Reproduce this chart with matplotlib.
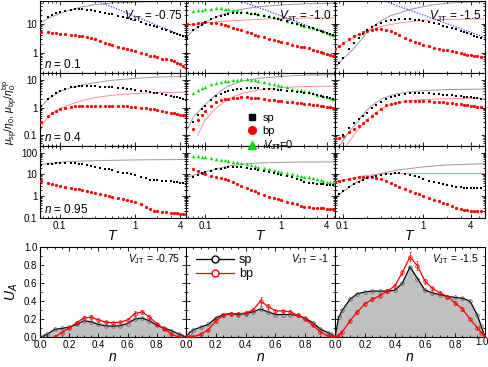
import numpy as np
import matplotlib
matplotlib.use('Agg')
import matplotlib.pyplot as plt
import matplotlib.transforms as mtrans
from matplotlib.ticker import FixedLocator, LogLocator, MultipleLocator, NullFormatter, FuncFormatter
from matplotlib.lines import Line2D

plt.rcParams['font.family'] = ['Liberation Sans', 'DejaVu Sans']
plt.rcParams['mathtext.fontset'] = 'custom'
plt.rcParams['mathtext.rm'] = 'Liberation Sans'
plt.rcParams['mathtext.it'] = 'Liberation Sans:italic'
plt.rcParams['mathtext.bf'] = 'Liberation Sans:bold'

nan = np.nan

# temperature grids (left/middle columns, right column)
T_A = [0.057, 0.07, 0.08, 0.09, 0.1, 0.12, 0.14, 0.16, 0.18, 0.2, 0.23, 0.26, 0.3, 0.35, 0.4, 0.45, 0.5,
       0.6, 0.7, 0.8, 0.9, 1.0, 1.2, 1.4, 1.6, 1.8, 2.0, 2.3, 2.6, 3.0, 3.3, 3.6, 4.0, 4.4, 4.8]
T_B = [0.08, 0.09, 0.1, 0.12, 0.14, 0.16, 0.18, 0.2, 0.23, 0.26, 0.3, 0.35, 0.4, 0.45, 0.5,
       0.6, 0.7, 0.8, 0.9, 1.0, 1.2, 1.4, 1.6, 1.8, 2.0, 2.3, 2.6, 3.0, 3.3, 3.6, 4.0, 4.4, 4.8, 5.4]

# ---- row n = 0.1 ----
sp_00 = [12, 17, 20, 23, 25, 28, 30, 31, 31.5, 31, 30, 29, 27, 25, 23.5, 22, 21, 19, 17, 15.5,
         14, 13, 11.3, 10, 9, 8.2, 7.5, 6.7, 6.0, 5.3, 4.9, 4.5, 4.1, 3.8, 3.5]
bp_00 = [5.3, 5.0, 4.85, 4.7, 4.55, 4.35, 4.2, 4.05, 3.9, 3.7, 3.45, 3.2, 2.85, 2.45, 2.15, 1.97, 1.82,
         1.6, 1.45, 1.32, 1.2, 1.12, 0.98, 0.88, 0.8, 0.74, 0.69, 0.63, 0.59, 0.55, 0.5, 0.45, 0.4, 0.35, 0.3]
sp_01 = [3.2, 6, 7.8, 9.2, 11, 14.5, 17, 19, 20.5, 21.5, 22.5, 23, 23.3, 23, 22, 21, 20, 18.5, 17, 15.8,
         14.7, 13.7, 12, 10.8, 9.8, 9, 8.4, 7.6, 6.9, 6.2, 5.7, 5.3, 4.8, 4.4, 4.1]
bp_01 = [9.4, 9.9, 10.4, 10.9, 11, 10.7, 10.2, 9.7, 9, 8.1, 7.2, 6.5, 5.8, 5.1, 4.7, 4.2, 3.9, 3.4, 3.0,
         2.75, 2.5, 2.35, 2.1, 1.9, 1.75, 1.63, 1.52, 1.4, 1.28, 1.17, 1.08, 1.0, 0.93, 0.86, 0.8]
v0_01 = [nan, 27, 29, 30.5, 31.5, 33, 33.5, 33.5, 33, 32, 30.5, 29, 27.5, 25.5, 24, 22.5, 21.2, 19.2, 17.6,
         16.3, 15.2, 14.2, 12.5, 11.2, 10.2, 9.3, 8.6, 7.8, 7.1, 6.4, 5.9, 5.4, 4.9, 4.5, 4.2]
sp_02 = [0.28, 0.45, 0.66, 1.3, 2.15, 3.2, 4.4, 5.8, 7.8, 9.2, 10.7, 12, 13, 13.7, 14.2, 14.5, 14.4, 13.8,
         13.2, 12.6, 11.5, 10.4, 9.4, 8.6, 7.9, 7.0, 6.3, 5.6, 5.1, 4.7, 4.3, 3.9, 3.6, 3.3]
bp_02 = [1.3, 1.7, 2.15, 3.0, 3.7, 4.4, 5.0, 5.6, 6.2, 6.6, 6.6, 6.2, 5.5, 4.8, 4.2, 3.3, 2.8, 2.4, 2.1,
         1.9, 1.65, 1.5, 1.38, 1.28, 1.2, 1.1, 1.02, 0.94, 0.9, 0.86, 0.81, 0.77, 0.74, 0.7]

# ---- row n = 0.4 ----
sp_10 = [1.1, 2.0, 2.7, 3.3, 3.9, 4.8, 5.4, 5.8, 6.0, 6.1, 6.1, 6.0, 5.9, 5.8, 5.6, 5.5, 5.4, 5.2, 5.0,
         4.8, 4.6, 4.45, 4.15, 3.9, 3.7, 3.5, 3.35, 3.1, 2.9, 2.7, 2.5, 2.35, 2.2, 2.05, 1.9]
bp_10 = [0.3, 0.5, 0.65, 0.78, 0.88, 1.0, 1.07, 1.1, 1.12, 1.13, 1.13, 1.13, 1.13, 1.13, 1.13, 1.12, 1.12,
         1.12, 1.11, 1.1, 1.08, 1.05, 1.0, 0.95, 0.9, 0.86, 0.82, 0.76, 0.7, 0.65, 0.61, 0.58, 0.55, 0.52, 0.5]
sp_11 = [nan, 0.3, 0.55, 0.85, 1.15, 1.9, 2.6, 3.2, 3.6, 3.9, 4.3, 4.55, 4.8, 4.95, 5.0, 5.0, 5.0, 4.9, 4.75,
         4.6, 4.45, 4.35, 4.1, 3.9, 3.75, 3.6, 3.45, 3.25, 3.05, 2.8, 2.65, 2.5, 2.35, 2.2, 2.05]
bp_11 = [nan, 0.17, 0.35, 0.55, 0.75, 1.15, 1.55, 1.85, 2.0, 2.1, 2.2, 2.3, 2.35, 2.35, 2.3, 2.25, 2.15,
         2.05, 1.95, 1.87, 1.8, 1.74, 1.65, 1.57, 1.5, 1.44, 1.39, 1.32, 1.26, 1.19, 1.14, 1.1, 1.06, 1.02, 0.98]
v0_11 = [nan, 3.5, 4.3, 5.0, 5.6, 6.9, 7.9, 8.7, 9.2, 9.6, 10.1, 10.4, 10.6, 10.5, 10.2, 9.7, 9.2, 8.3, 7.6,
         7.0, 6.5, 6.1, 5.4, 4.9, 4.5, 4.2, 3.9, 3.55, 3.25, 2.95, 2.75, 2.55, 2.4, 2.25, 2.1]
sp_12 = [nan, nan, 0.1, 0.18, 0.28, 0.38, 0.5, 0.65, 0.95, 1.2, 1.6, 2.1, 2.45, 2.7, 2.9, 3.1, 3.25, 3.3,
         3.3, 3.3, 3.25, 3.15, 3.05, 2.95, 2.85, 2.75, 2.65, 2.55, 2.48, 2.4, 2.32, 2.25, 2.2, 2.1]
bp_12 = [0.075, 0.08, 0.09, 0.13, 0.17, 0.22, 0.28, 0.36, 0.5, 0.65, 0.85, 1.2, 1.4, 1.52, 1.6, 1.7, 1.75,
         1.77, 1.77, 1.75, 1.7, 1.65, 1.6, 1.55, 1.5, 1.44, 1.38, 1.33, 1.28, 1.24, 1.18, 1.13, 1.09, 1.04]

# ---- row n = 0.95 ----
sp_20 = [28, 30, 31.5, 32, 32.5, 33, 33, 32, 31, 29.5, 27, 25, 22.5, 20, 18.5, 17, 15.5, 13.5, 12, 11, 10,
         9.2, 7.8, 6.5, 5.6, 5.5, 5.4, 5.2, 5.0, 4.8, 4.6, 4.4, 4.2, 4.0, 3.8]
bp_20 = [4.8, 4.2, 3.6, 3.2, 3.0, 2.7, 2.4, 2.2, 2.05, 1.9, 1.75, 1.6, 1.45, 1.3, 1.15, 1.05, 0.95, 0.82,
         0.72, 0.66, 0.61, 0.56, 0.42, 0.32, 0.26, 0.22, 0.2, 0.19, 0.18, 0.175, 0.17, 0.165, 0.16, 0.16, 0.155]
sp_21 = [nan, 7.5, 9.5, 11, 12.5, 14.5, 17, 18.5, 20, 21, 22, 22, 21.5, 20, 18.5, 17, 15.8, 13.8, 12.3,
         11.2, 10.2, 9.5, 8.3, 7.3, 6.3, 5.3, 4.5, 4.0, 3.85, 3.7, 3.6, 3.5, 3.4, 3.3, 3.25]
bp_21 = [nan, 17, 14, 12, 10.5, 8.8, 7.8, 6.8, 6.0, 5.3, 4.4, 3.7, 3.0, 2.4, 1.95, 1.65, 1.4, 1.12, 0.93,
         0.82, 0.72, 0.65, 0.55, 0.48, 0.42, 0.37, 0.33, 0.31, 0.3, 0.29, 0.28, 0.28, 0.27, 0.27, 0.26]
v0_21 = [nan, 72, 67, 63, 60, 55, 50, 47, 44.5, 42, 38.5, 35.5, 32, 28.5, 26, 24, 22.5, 19.5, 17.3, 15.6,
         14.2, 13, 11.2, 10.0, 9.1, 8.4, 7.9, 7.4, 6.7, 6.0, 5.5, 5.1, 4.7, 4.4, 4.1]
sp_22 = [1.0, 1.3, 1.66, 2.6, 3.5, 4.6, 5.6, 6.6, 7.8, 8.7, 9.5, 10.3, 10.8, 11, 11, 10.5, 9.6, 8.5, 7.3,
         6.4, 5.2, 4.5, 4.0, 3.65, 3.4, 3.0, 2.75, 2.55, 2.4, 2.35, 2.3, 2.3, 2.3, 2.3]
bp_22 = [4.7, 5.1, 5.5, 6.1, 6.7, 7.2, 7.6, 7.7, 7.5, 7.0, 6.0, 4.8, 3.9, 3.2, 2.7, 2.1, 1.75, 1.45, 1.2,
         1.05, 0.85, 0.68, 0.58, 0.48, 0.42, 0.35, 0.3, 0.26, 0.24, 0.23, 0.22, 0.21, 0.21, 0.21]

# ---- thin reference curves: (T list, values) ----
gray_lines = {
    (0, 0): ([0.055, 0.07, 0.1, 0.15, 0.2, 0.3, 0.5, 1.0, 2.0, 4.8], [10.5, 15, 22, 31, 38, 45, 51, 55, 57, 58]),
    (0, 1): ([0.055, 0.07, 0.1, 0.15, 0.2, 0.3, 0.5, 1.0, 2.0, 5.1], [3.2, 6, 11, 18.5, 24, 31, 38, 44, 48, 50]),
    (0, 2): ([0.08, 0.1, 0.133, 0.17, 0.2, 0.24, 0.3, 0.4, 0.5, 0.7, 1.0, 1.4, 2.0, 3.0, 6.0],
             [0.3, 0.6, 1.26, 2.8, 4.8, 8, 12.5, 19, 23, 31, 38, 45, 50, 54, 57]),
    (1, 0): ([0.054, 0.07, 0.1, 0.15, 0.2, 0.3, 0.5, 1.0, 2.0, 4.8], [0.9, 2.0, 3.8, 5.5, 6.6, 8, 9.8, 11.5, 12.8, 13.5]),
    (1, 1): ([0.055, 0.07, 0.1, 0.15, 0.2, 0.3, 0.5, 1.0, 2.0, 5.1], [0.12, 0.45, 1.3, 3.5, 6, 9, 11.5, 13.5, 15, 15.5]),
    (1, 2): ([0.09, 0.1, 0.12, 0.14, 0.17, 0.2, 0.25, 0.3, 0.4, 0.6, 1.0, 2.0, 6.0],
             [0.04, 0.06, 0.13, 0.22, 0.45, 0.8, 1.4, 2.0, 2.8, 3.6, 4.1, 4.5, 4.7]),
    (2, 0): ([0.054, 0.08, 0.12, 0.2, 0.5, 1.0, 2.0, 4.8], [28, 33, 38, 41, 44, 46, 47, 48]),
    (2, 1): ([0.055, 0.07, 0.1, 0.15, 0.2, 0.3, 0.5, 1.0, 2.0, 5.1], [7, 9, 13, 19, 24, 29, 33, 35.5, 37, 37.5]),
    (2, 2): ([0.079, 0.1, 0.13, 0.17, 0.22, 0.3, 0.5, 1.0, 2.0, 6.0], [0.85, 1.6, 3.2, 5.5, 8, 11, 16, 22, 27, 31]),
}
pink_lines = {
    (0, 1): ([0.055, 0.1, 0.2, 0.5, 1.0, 2.0, 5.1], [8.5, 10.5, 12.3, 14, 15, 15.5, 15.8]),
    (0, 2): ([0.08, 0.1, 0.14, 0.2, 0.3, 0.5, 1.0, 2.0, 6.0], [1.3, 2.0, 3.5, 5.6, 8, 10.5, 13, 14, 14.5]),
    (1, 0): ([0.054, 0.06, 0.07, 0.08, 0.1, 0.15, 0.2, 0.3, 0.5, 1.0, 2.0, 4.8],
             [0.1, 0.25, 0.45, 0.62, 0.9, 1.4, 1.8, 2.3, 2.8, 3.2, 3.5, 3.6]),
    (1, 1): ([0.08, 0.1, 0.13, 0.17, 0.22, 0.3, 0.5, 1.0, 2.0, 5.1], [0.1, 0.35, 0.8, 1.5, 2.3, 3.2, 4.4, 5.3, 5.8, 6.0]),
    (1, 2): ([0.11, 0.13, 0.15, 0.2, 0.25, 0.3, 0.4, 0.6, 1.0, 2.0, 6.0],
             [0.04, 0.08, 0.14, 0.35, 0.6, 0.9, 1.3, 1.7, 1.95, 2.1, 2.2]),
    (2, 2): ([0.079, 0.1, 0.15, 0.2, 0.3, 0.5, 6.0], [4.5, 5.5, 7.5, 9, 10.5, 11, 11]),
}
blue_lines = {
    (0, 0): ([0.3, 0.5, 1.0, 2.0, 3.0, 4.8], [62, 37, 18, 8.7, 5.7, 3.5]),
    (0, 1): ([0.28, 0.5, 1.0, 2.0, 3.0, 5.1], [62, 36, 18.5, 9.3, 6.3, 3.9]),
    (0, 2): ([0.32, 0.5, 1.0, 2.0, 4.0, 6.0], [62, 40, 20, 10, 5, 3.3]),
}

markers = {
    (0, 0): (T_A, sp_00, bp_00, None), (0, 1): (T_A, sp_01, bp_01, v0_01), (0, 2): (T_B, sp_02, bp_02, None),
    (1, 0): (T_A, sp_10, bp_10, None), (1, 1): (T_A, sp_11, bp_11, v0_11), (1, 2): (T_B, sp_12, bp_12, None),
    (2, 0): (T_A, sp_20, bp_20, None), (2, 1): (T_A, sp_21, bp_21, v0_21), (2, 2): (T_B, sp_22, bp_22, None),
}

vjt_top = ['-0.75', '-1.0', '-1.5']
vjt_bot = ['-0.75', '-1', '-1.5']
n_labels = ['0.1', '0.4', '0.95']
xlims = [(0.055, 4.8), (0.056, 5.1), (0.08, 6.0)]
ylims = [(0.2, 60), (0.04, 18), (0.1, 200)]
yticks = [[1, 10], [0.1, 1, 10], [0.1, 1, 10, 100]]

# ---- bottom row: U_A vs n ----
n_vals = [0, 0.025, 0.05, 0.1, 0.15, 0.2, 0.25, 0.3, 0.35, 0.4, 0.45, 0.5, 0.55, 0.6, 0.65, 0.7, 0.75,
          0.8, 0.85, 0.9, 0.95, 0.975, 1.0]
ua_sp = [
    [0, 0.01, 0.03, 0.085, 0.095, 0.11, 0.14, 0.18, 0.17, 0.14, 0.125, 0.12, 0.125, 0.15, 0.2, 0.21, 0.18,
     0.13, 0.1, 0.07, 0.035, 0.015, 0],
    [0, 0.05, 0.08, 0.11, 0.14, 0.21, 0.25, 0.26, 0.25, 0.26, 0.28, 0.31, 0.28, 0.25, 0.25, 0.25, 0.24,
     0.21, 0.16, 0.09, 0.05, 0.03, 0],
    [0, 0.22, 0.3, 0.42, 0.48, 0.5, 0.51, 0.51, 0.51, 0.52, 0.6, 0.78, 0.65, 0.52, 0.49, 0.47, 0.45,
     0.44, 0.43, 0.4, 0.24, 0.12, 0],
]
ua_bp = [
    [nan, nan, nan, 0.0, 0.05, 0.1, 0.16, 0.21, 0.22, 0.19, 0.165, 0.16, 0.165, 0.19, 0.26, 0.28, 0.22,
     0.15, 0.09, 0.03, 0.0, nan, nan],
    [0, 0.0, 0.005, 0.03, 0.08, 0.18, 0.24, 0.26, 0.26, 0.265, 0.3, 0.4, 0.34, 0.29, 0.29, 0.28, 0.24,
     0.2, 0.13, 0.06, 0.01, 0.0, 0],
    [0, 0.02, 0.06, 0.18, 0.28, 0.37, 0.42, 0.46, 0.51, 0.57, 0.72, 0.89, 0.79, 0.62, 0.54, 0.49, 0.45,
     0.38, 0.31, 0.2, 0.1, 0.05, 0],
]
ua_bp_err = [
    [0, 0, 0, 0.01, 0.01, 0.01, 0.015, 0.02, 0.02, 0.015, 0.01, 0.01, 0.01, 0.015, 0.03, 0.025, 0.02,
     0.01, 0.01, 0.01, 0, 0, 0],
    [0, 0, 0, 0.01, 0.01, 0.015, 0.015, 0.015, 0.015, 0.02, 0.02, 0.05, 0.03, 0.015, 0.015, 0.015, 0.015,
     0.01, 0.01, 0.01, 0, 0, 0],
    [0, 0.01, 0.01, 0.015, 0.02, 0.02, 0.02, 0.02, 0.02, 0.02, 0.03, 0.05, 0.05, 0.03, 0.02, 0.02, 0.02,
     0.02, 0.02, 0.015, 0.01, 0.01, 0],
]

W, H = 489, 367
fig = plt.figure(figsize=(W / 100, H / 100), dpi=100)

col_px = [(40, 186), (186, 335), (335, 485)]
row_px = [(1, 73), (73, 146), (146, 218)]
bot_px = (247, 337)

GRAY = '#9a9a9a'
PINK = '#ff9090'
BLUE = '#3a3aff'
GREEN = '#00dd00'


def rect(xp, yp):
    return [xp[0] / W, 1 - yp[1] / H, (xp[1] - xp[0]) / W, (yp[1] - yp[0]) / H]


def style(ax):
    ax.tick_params(which='both', direction='in', top=True, right=True, labelsize=7, width=0.6, pad=2)
    ax.tick_params(which='major', length=3)
    ax.tick_params(which='minor', length=1.6)
    for s in ax.spines.values():
        s.set_linewidth(0.8)


fmt = FuncFormatter(lambda v, p: '%g' % v)

for r in range(3):
    for c in range(3):
        ax = fig.add_axes(rect(col_px[c], row_px[r]))
        ax.set_xscale('log')
        ax.set_yscale('log')
        if (r, c) in gray_lines:
            tx, ty = gray_lines[(r, c)]
            ax.plot(tx, ty, color=GRAY, lw=0.7, zorder=1)
        if (r, c) in pink_lines:
            tx, ty = pink_lines[(r, c)]
            ax.plot(tx, ty, color=PINK, lw=0.7, zorder=1)
        if (r, c) in blue_lines:
            tx, ty = blue_lines[(r, c)]
            ax.plot(tx, ty, color=BLUE, lw=0.9, ls=(0, (1, 1.2)), zorder=1)
        T, sp, bp, v0 = markers[(r, c)]
        ax.plot(T, bp, 'o', color='red', ms=2.3, mew=0, zorder=3)
        if v0 is not None:
            ax.plot(T, v0, '^', color=GREEN, ms=2.5, mew=0, zorder=3)
        ax.plot(T, sp, 's', color='black', ms=2.0, mew=0, zorder=4)
        ax.set_xlim(*xlims[c])
        ax.set_ylim(*ylims[r])
        ax.xaxis.set_major_locator(FixedLocator([0.1, 1, 4]))
        ax.xaxis.set_minor_locator(LogLocator(base=10, subs=np.arange(2, 10)))
        ax.xaxis.set_minor_formatter(NullFormatter())
        ax.yaxis.set_major_locator(FixedLocator(yticks[r]))
        ax.yaxis.set_minor_locator(LogLocator(base=10, subs=np.arange(2, 10)))
        ax.yaxis.set_minor_formatter(NullFormatter())
        style(ax)
        if r == 2:
            ax.xaxis.set_major_formatter(fmt)
            ax.set_xlabel('$T$', fontsize=10, labelpad=-1)
        else:
            ax.xaxis.set_major_formatter(NullFormatter())
        if c == 0:
            ax.yaxis.set_major_formatter(fmt)
            ax.text(0.03, 0.07, '$n$ = ' + n_labels[r], transform=ax.transAxes, fontsize=8.5)
        else:
            ax.yaxis.set_major_formatter(NullFormatter())
        if r == 0:
            ax.text(0.98, 0.74, r'$V_{\rm JT}$ = ' + vjt_top[c], transform=ax.transAxes,
                    ha='right', fontsize=8.5)

# bottom row
for c in range(3):
    ax = fig.add_axes(rect(col_px[c], bot_px))
    ax.fill_between(n_vals, ua_sp[c], 0, color='#c0c0c0', lw=0, zorder=1)
    ax.plot(n_vals, ua_sp[c], '-o', color='black', lw=0.9, ms=2.6, mfc='none', mec='#555555', mew=0.5,
            zorder=3, label='sp')
    ax.errorbar(n_vals, ua_bp[c], yerr=ua_bp_err[c], fmt='-o', color='red', lw=0.9, ms=2.6, mfc='none',
                mew=0.5, elinewidth=0.5, capsize=1, zorder=4, label='bp')
    ax.set_xlim(0, 1)
    ax.set_ylim(0, 1)
    ax.xaxis.set_major_locator(MultipleLocator(0.2))
    ax.xaxis.set_minor_locator(MultipleLocator(0.05))
    ax.yaxis.set_major_locator(MultipleLocator(0.2))
    ax.yaxis.set_minor_locator(MultipleLocator(0.1))
    style(ax)
    ax.xaxis.set_major_formatter(FuncFormatter(lambda v, p: ('%.1f' % v) if v < 0.99 else ''))
    if c == 2:
        # last tick label pulled in slightly so it stays inside the figure
        off = mtrans.offset_copy(ax.transAxes, fig=fig, x=4, y=0, units='dots')
        ax.text(1.0, 0, '1.0', transform=off, ha='right', va='top', fontsize=7)
        ax.xaxis.get_major_ticks()  # keep tick marks
    if c == 0:
        ax.yaxis.set_major_formatter(FuncFormatter(lambda v, p: '%.1f' % v))
        ax.set_ylabel('$U_A$', fontsize=10, labelpad=3)
    else:
        ax.yaxis.set_major_formatter(NullFormatter())
    ax.set_xlabel('$n$', fontsize=10, labelpad=0)
    ax.text(0.96, 0.83, r'$V_{\rm JT}$ = ' + vjt_bot[c], transform=ax.transAxes, ha='right', fontsize=7.5)
    if c == 1:
        h = [Line2D([], [], color='black', lw=0.9, marker='o', ms=5, mfc='white', mec='black'),
             Line2D([], [], color='red', lw=0.9, marker='o', ms=5, mfc='white', mec='red')]
        ax.legend(h, ['sp', 'bp'], loc='upper left', bbox_to_anchor=(0.02, 1.0), frameon=False,
                  fontsize=9, handlelength=3.0, handletextpad=0.4, labelspacing=0.15, borderaxespad=0.2)

# legend for marker panels
mh = [Line2D([], [], ls='none', marker='s', color='black', ms=5),
      Line2D([], [], ls='none', marker='o', color='red', ms=5.5),
      Line2D([], [], ls='none', marker='^', color=GREEN, ms=5.5)]
fig.legend(mh, ['sp', 'bp', r'$V_{\rm JT}$=0'], loc='upper left', bbox_to_anchor=(246 / W, 1 - 113 / H),
           frameon=False, fontsize=8, handlelength=1.0, handletextpad=0.5, labelspacing=0.25,
           borderaxespad=0, borderpad=0)

fig.text(10 / W, 1 - 112 / H, r'$\mu_{\rm sp}/\eta_0$, $\mu_{\rm bp}/\eta_0^{\rm bp}$', rotation=90,
         ha='center', va='center', fontsize=7.5)

fig.savefig('out.png', dpi=100)
